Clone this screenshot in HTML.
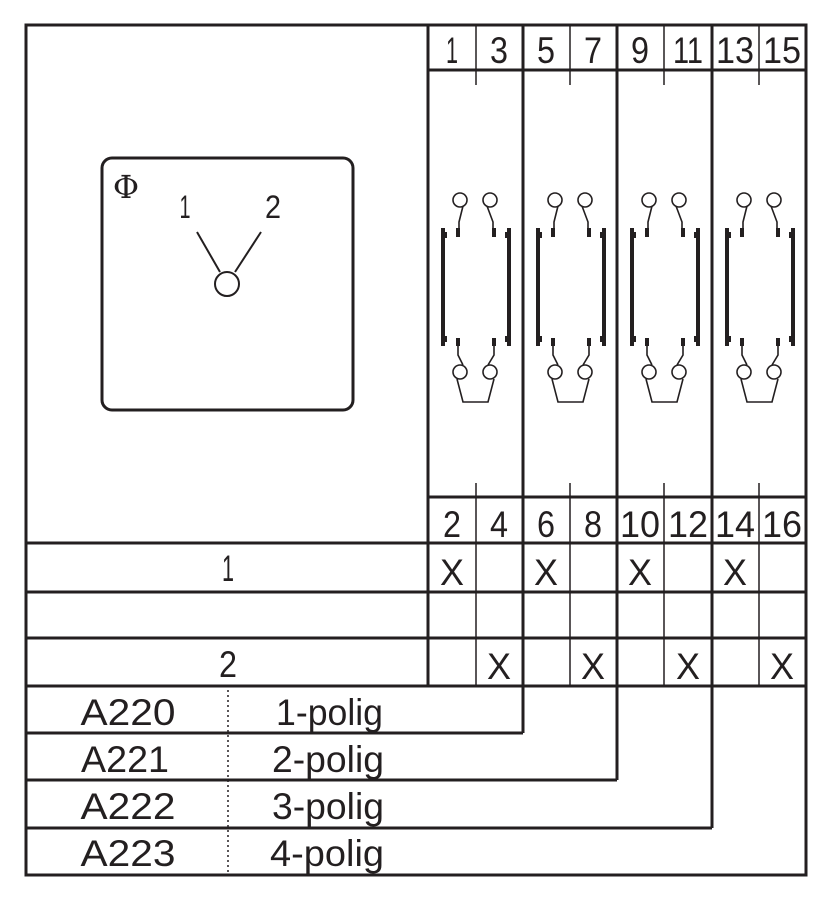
<!DOCTYPE html>
<html><head><style>body{margin:0;background:#fff}svg{display:block}</style></head><body>
<svg width="840" height="900" viewBox="0 0 840 900" xmlns="http://www.w3.org/2000/svg" font-family="Liberation Sans, sans-serif" fill="none" stroke="#231f20">
<g stroke-width="3">
<rect x="26" y="25" width="780" height="850"/>
<line x1="428" y1="25" x2="428" y2="686"/>
<line x1="428" y1="70" x2="806" y2="70"/>
<line x1="428" y1="497" x2="806" y2="497"/>
<line x1="26" y1="543" x2="806" y2="543"/>
<line x1="26" y1="592" x2="806" y2="592"/>
<line x1="26" y1="638" x2="806" y2="638"/>
<line x1="26" y1="686" x2="806" y2="686"/>
<line x1="523" y1="25" x2="523" y2="733"/>
<line x1="617" y1="25" x2="617" y2="780"/>
<line x1="712" y1="25" x2="712" y2="828"/>
<line x1="26" y1="733" x2="523" y2="733"/>
<line x1="26" y1="780" x2="617" y2="780"/>
<line x1="26" y1="828" x2="712" y2="828"/>
<rect x="102" y="158" width="251" height="252" rx="10"/>
</g>
<g stroke-width="1.5">
<line x1="476" y1="25" x2="476" y2="85"/><line x1="570" y1="25" x2="570" y2="85"/><line x1="664" y1="25" x2="664" y2="85"/><line x1="759" y1="25" x2="759" y2="85"/>
<line x1="476" y1="483" x2="476" y2="686"/><line x1="570" y1="483" x2="570" y2="686"/><line x1="664" y1="483" x2="664" y2="686"/><line x1="759" y1="483" x2="759" y2="686"/>
<line x1="228" y1="690" x2="228" y2="875" stroke-dasharray="2,3"/>
<line x1="197" y1="232" x2="220" y2="272" stroke-width="2"/>
<line x1="261" y1="232" x2="235" y2="272" stroke-width="2"/>
<circle cx="227" cy="284" r="12" stroke-width="2"/>
</g>
<defs>
<g id="p" stroke-width="1.6">
<circle cx="32" cy="200" r="7"/><circle cx="62" cy="200" r="7"/>
<path d="M35 206 L31 222 L31 232 M59 206 L65 222 L65 232"/>
<rect x="28" y="228" width="4" height="9" fill="#231f20" stroke="none"/>
<rect x="64" y="228" width="4" height="9" fill="#231f20" stroke="none"/>
<rect x="28" y="338" width="4" height="8" fill="#231f20" stroke="none"/>
<rect x="64" y="338" width="4" height="8" fill="#231f20" stroke="none"/>
<rect x="13" y="228" width="4" height="118" fill="#231f20" stroke="none"/>
<rect x="17" y="232" width="2" height="6" fill="#231f20" stroke="none"/>
<rect x="17" y="336" width="2" height="6" fill="#231f20" stroke="none"/>
<rect x="79" y="228" width="4" height="118" fill="#231f20" stroke="none"/>
<rect x="77" y="232" width="2" height="6" fill="#231f20" stroke="none"/>
<rect x="77" y="336" width="2" height="6" fill="#231f20" stroke="none"/>
<path d="M30 346 L30 355 L35 365 M66 346 L66 355 L60 365"/>
<circle cx="32" cy="372" r="7"/><circle cx="62" cy="372" r="7"/>
<path d="M29 379 L35 402 L60 402 L66 379"/>
</g>
</defs>
<use href="#p" x="428"/><use href="#p" x="523"/><use href="#p" x="617"/><use href="#p" x="712"/>
<g fill="#231f20" stroke="none" font-size="37">
<text x="452" y="63" text-anchor="middle" textLength="12" lengthAdjust="spacingAndGlyphs">1</text><text x="499" y="63" text-anchor="middle" textLength="18" lengthAdjust="spacingAndGlyphs">3</text>
<text x="546" y="63" text-anchor="middle" textLength="18" lengthAdjust="spacingAndGlyphs">5</text><text x="593" y="63" text-anchor="middle" textLength="18" lengthAdjust="spacingAndGlyphs">7</text>
<text x="640" y="63" text-anchor="middle" textLength="18" lengthAdjust="spacingAndGlyphs">9</text><text x="688" y="63" text-anchor="middle" textLength="30" lengthAdjust="spacingAndGlyphs">11</text>
<text x="735" y="63" text-anchor="middle" textLength="38" lengthAdjust="spacingAndGlyphs">13</text><text x="782" y="63" text-anchor="middle" textLength="38" lengthAdjust="spacingAndGlyphs">15</text>
<text x="452" y="537" text-anchor="middle" textLength="18" lengthAdjust="spacingAndGlyphs">2</text><text x="499" y="537" text-anchor="middle" textLength="18" lengthAdjust="spacingAndGlyphs">4</text>
<text x="546" y="537" text-anchor="middle" textLength="18" lengthAdjust="spacingAndGlyphs">6</text><text x="593" y="537" text-anchor="middle" textLength="18" lengthAdjust="spacingAndGlyphs">8</text>
<text x="640" y="537" text-anchor="middle" textLength="40" lengthAdjust="spacingAndGlyphs">10</text><text x="688" y="537" text-anchor="middle" textLength="40" lengthAdjust="spacingAndGlyphs">12</text>
<text x="735" y="537" text-anchor="middle" textLength="40" lengthAdjust="spacingAndGlyphs">14</text><text x="782" y="537" text-anchor="middle" textLength="40" lengthAdjust="spacingAndGlyphs">16</text>
<text x="452" y="585" text-anchor="middle" textLength="24" lengthAdjust="spacingAndGlyphs">X</text><text x="546" y="585" text-anchor="middle" textLength="24" lengthAdjust="spacingAndGlyphs">X</text>
<text x="640" y="585" text-anchor="middle" textLength="24" lengthAdjust="spacingAndGlyphs">X</text><text x="735" y="585" text-anchor="middle" textLength="24" lengthAdjust="spacingAndGlyphs">X</text>
<text x="499" y="679" text-anchor="middle" textLength="24" lengthAdjust="spacingAndGlyphs">X</text><text x="593" y="679" text-anchor="middle" textLength="24" lengthAdjust="spacingAndGlyphs">X</text>
<text x="688" y="679" text-anchor="middle" textLength="24" lengthAdjust="spacingAndGlyphs">X</text><text x="782" y="679" text-anchor="middle" textLength="24" lengthAdjust="spacingAndGlyphs">X</text>
<text x="228" y="581" text-anchor="middle" textLength="12" lengthAdjust="spacingAndGlyphs">1</text>
<text x="228" y="677" text-anchor="middle" textLength="18" lengthAdjust="spacingAndGlyphs">2</text>
<text x="128" y="725" text-anchor="middle" textLength="95" lengthAdjust="spacingAndGlyphs">A220</text>
<text x="125" y="772" text-anchor="middle" textLength="88" lengthAdjust="spacingAndGlyphs">A221</text>
<text x="128" y="819" text-anchor="middle" textLength="95" lengthAdjust="spacingAndGlyphs">A222</text>
<text x="128" y="866" text-anchor="middle" textLength="95" lengthAdjust="spacingAndGlyphs">A223</text>
<text x="276" y="725" textLength="107" lengthAdjust="spacingAndGlyphs">1-polig</text>
<text x="272" y="772" textLength="112" lengthAdjust="spacingAndGlyphs">2-polig</text>
<text x="272" y="819" textLength="112" lengthAdjust="spacingAndGlyphs">3-polig</text>
<text x="270" y="866" textLength="114" lengthAdjust="spacingAndGlyphs">4-polig</text>
<text x="185" y="218" font-size="32" text-anchor="middle" textLength="11" lengthAdjust="spacingAndGlyphs">1</text>
<text x="273" y="218" font-size="32" text-anchor="middle" textLength="16" lengthAdjust="spacingAndGlyphs">2</text>
<text x="126" y="198" font-size="32" text-anchor="middle" font-family="DejaVu Serif, serif">Φ</text>
</g>
</svg>
</body></html>
